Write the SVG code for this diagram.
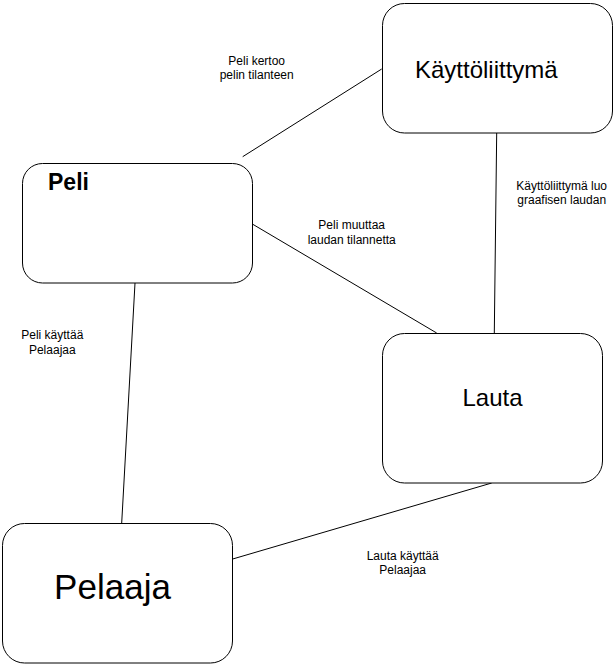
<svg xmlns="http://www.w3.org/2000/svg" width="614" height="667" viewBox="0 0 614 667">
<style>
.box{fill:#fff;stroke:#000;stroke-width:1}
.conn{stroke:#000;stroke-width:1;fill:none}
.lbl{font-family:"Liberation Sans",Arial,sans-serif;font-size:12px;fill:#000;text-anchor:middle}
.big{font-family:"Liberation Sans",Arial,sans-serif;fill:#000}
</style>
<rect width="614" height="667" fill="#fff"/>
<g id="connectors">
<line class="conn" x1="242.7" y1="156.7" x2="381.7" y2="69"/>
<line class="conn" x1="496.7" y1="133" x2="494.3" y2="333"/>
<line class="conn" x1="252.3" y1="224" x2="436.7" y2="333"/>
<line class="conn" x1="135" y1="283" x2="121.7" y2="523"/>
<line class="conn" x1="491.7" y1="483" x2="232.7" y2="559"/>
</g>
<g id="labels">
<text class="lbl" x="256.7" y="65">Peli kertoo</text>
<text class="lbl" x="256.7" y="79">pelin tilanteen</text>
<text class="lbl" x="561.7" y="190">Käyttöliittymä luo</text>
<text class="lbl" x="561.7" y="204">graafisen laudan</text>
<text class="lbl" x="351.7" y="229">Peli muuttaa</text>
<text class="lbl" x="351.7" y="244">laudan tilannetta</text>
<text class="lbl" x="52.3" y="339">Peli käyttää</text>
<text class="lbl" x="52.3" y="353.5">Pelaajaa</text>
<text class="lbl" x="402.7" y="560">Lauta käyttää</text>
<text class="lbl" x="402.7" y="574">Pelaajaa</text>
</g>
<g id="kayttoliittyma">
<rect class="box" x="382.5" y="3.5" width="230" height="129.5" rx="22" ry="22"/>
<text class="big" x="415" y="78" font-size="24">Käyttöliittymä</text>
</g>
<g id="peli">
<rect class="box" x="22.5" y="163.5" width="230" height="119.5" rx="20" ry="20"/>
<text class="big" x="48" y="190" font-size="23" font-weight="bold">Peli</text>
</g>
<g id="lauta">
<rect class="box" x="382.5" y="333.5" width="220" height="149.5" rx="22" ry="22"/>
<text class="big" x="492.5" y="405.5" font-size="24" text-anchor="middle">Lauta</text>
</g>
<g id="pelaaja">
<rect class="box" x="2.5" y="523.5" width="230" height="139.5" rx="22" ry="22"/>
<text class="big" x="112.5" y="599" font-size="35" text-anchor="middle">Pelaaja</text>
</g>
</svg>
